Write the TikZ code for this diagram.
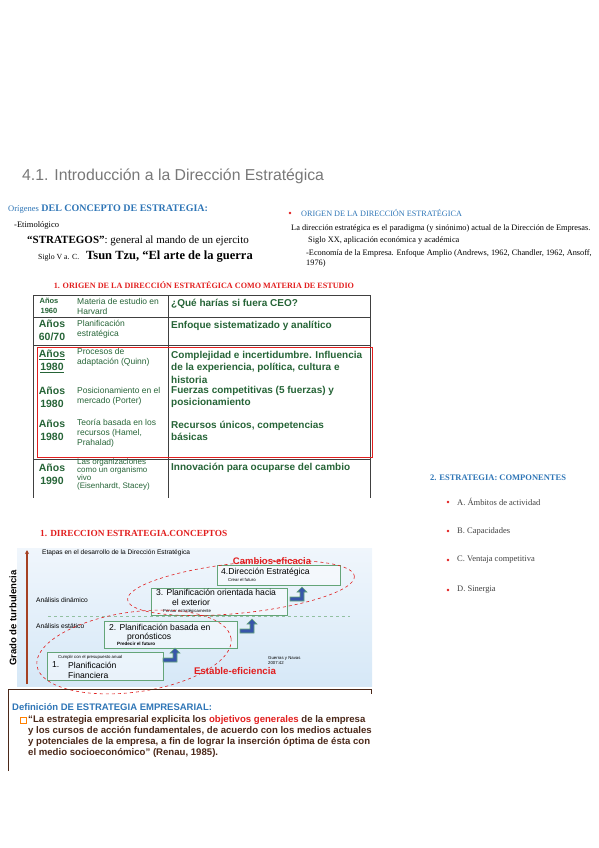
\documentclass[tikz,border=0pt]{standalone}
\usepackage{fontspec}
\setmainfont{Liberation Serif}
\setsansfont{Liberation Sans}
\usetikzlibrary{arrows.meta, positioning, shapes.geometric}

\definecolor{titlegray}{RGB}{120,120,120}
\definecolor{headblue}{RGB}{46,117,182}
\definecolor{tabgreen}{RGB}{38,100,55}
\definecolor{markred}{RGB}{225,30,30}
\definecolor{axbrown}{RGB}{165,65,35}
\definecolor{boxgreen}{RGB}{100,165,120}
\definecolor{stepblue}{RGB}{55,85,170}
\definecolor{defbrown}{RGB}{75,40,25}
\definecolor{panelA}{RGB}{240,246,252}
\definecolor{panelB}{RGB}{214,232,247}

\newcommand{\fsz}[2]{\fontsize{#1}{#2}\selectfont}

\begin{document}
\begin{tikzpicture}[
  x=1pt, y=-1pt,
  txt/.style={inner sep=0pt, anchor=west, align=left},
  bul/.style={circle, fill=markred, inner sep=0pt, minimum size=2.6pt},
  col1/.style={inner sep=0pt, align=center, text=tabgreen, font=\sffamily\bfseries\fsz{10.5}{13}},
  col2/.style={txt, text=tabgreen, font=\sffamily\fsz{8.5}{10}},
  col3/.style={txt, text=tabgreen, font=\sffamily\bfseries\fsz{10}{12.5}},
  tabline/.style={draw=black!75, line width=0.8pt},
  stagebox/.style={draw=boxgreen, line width=0.8pt, fill=white, fill opacity=0.45, anchor=north west, inner sep=0pt},
  stagetxt/.style={txt, font=\sffamily\fsz{8.6}{9}},
  tinytxt/.style={txt, font=\sffamily\fsz{4.3}{5}},
  steparrow/.style={fill=stepblue, draw=boxgreen, line width=0.6pt},
  redellipse/.style={draw=markred, dashed, line width=0.6pt},
  deftxt/.style={txt, text=defbrown, font=\sffamily\bfseries\fsz{9.6}{11}}
]
\useasboundingbox (0,0) rectangle (599,848);

% title
\node[txt, text=titlegray, font=\sffamily\fsz{15.8}{18}] (title) at (22,176) {4.1. Introducción a la Dirección Estratégica};

% origenes del concepto
\node[txt, text=headblue, font=\bfseries\fsz{10}{11}] (orig) at (8,209) {\textmd{\fsz{8.5}{9}Orígenes} DEL CONCEPTO DE ESTRATEGIA:};
\node[txt, font=\fsz{8.5}{9}] (etim) at (14,225) {-Etimológico};
\node[txt, font=\fsz{11}{13}] (strat) at (27,241) {\textbf{“STRATEGOS”}: general al mando de un ejercito};
\node[txt, font=\fsz{7.8}{9}] (siglo) at (38,258) {Siglo V a. C.};
\node[txt, font=\bfseries\fsz{12.5}{14}] (tzu) at (86,257) {Tsun Tzu, “El arte de la guerra};

% origen de la direccion estrategica
\node[bul] (b0) at (290,213) {};
\node[txt, text=headblue, font=\fsz{8.2}{9}] (origr) at (301,213) {ORIGEN DE LA DIRECCIÓN ESTRATÉGICA};
\node[txt, font=\fsz{8.3}{9}] (par1) at (291,229) {La dirección estratégica es el paradigma (y sinónimo) actual de la Dirección de Empresas.};
\node[txt, font=\fsz{8.3}{9}] (par2) at (308,241) {Siglo XX, aplicación económica y académica};
\node[txt, font=\fsz{8.3}{9}] (par3) at (306,253) {-Economía de la Empresa. Enfoque Amplio (Andrews, 1962, Chandler, 1962, Ansoff,};
\node[txt, font=\fsz{8.3}{9}] (par4) at (306,264) {1976)};

% tabla
\node[inner sep=0pt, text=markred, font=\bfseries\fsz{8.15}{9}] (ttab) at (204,285) {1. ORIGEN DE LA DIRECCIÓN ESTRATÉGICA COMO MATERIA DE ESTUDIO};
\draw[tabline] (33,295) -- (370,295);
\foreach \y in {317,345,459} \draw[tabline] (33,\y) -- (370,\y);
\foreach \x in {33,168,370} \draw[tabline] (\x,295) -- (\x,498);

\node[col1, font=\sffamily\bfseries\fsz{7.5}{9.5}] (a1) at (49,306) {Años\\1960};
\node[col2] (m1) at (77,306) {Materia de estudio en\\Harvard};
\node[col3] (e1) at (171,304) {¿Qué harías si fuera CEO?};

\node[col1] (a2) at (52,330) {Años\\60/70};
\node[col2] (m2) at (77,329) {Planificación\\estratégica};
\node[col3] (e2) at (171,326) {Enfoque sistematizado y analítico};

\node[col1] (a3) at (52,361) {\underline{Años}\\\underline{1980}};
\node[col2] (m3) at (77,357) {Procesos de\\adaptación (Quinn)};
\node[col3] (e3) at (171,367) {Complejidad e incertidumbre. Influencia\\de la experiencia, política, cultura e\\historia};

\node[col1] (a4) at (52,397) {Años\\1980};
\node[col2] (m4) at (77,396) {Posicionamiento en el\\mercado (Porter)};
\node[col3] (e4) at (171,397) {Fuerzas competitivas (5 fuerzas) y\\posicionamiento};

\node[col1] (a5) at (52,430) {Años\\1980};
\node[col2] (m5) at (77,433) {Teoría basada en los\\recursos (Hamel,\\Prahalad)};
\node[col3] (e5) at (171,431) {Recursos únicos, competencias\\básicas};

\node[col1] (a6) at (52,474) {Años\\1990};
\node[col2, font=\sffamily\fsz{8}{7.2}] (m6) at (77,474) {Las organizaciones\\como un organismo\\vivo\\(Eisenhardt, Stacey)};
\node[col3] (e6) at (171,468) {Innovación para ocuparse del cambio};

\draw[markred, line width=0.9pt] (37,347) rectangle (372,457);

% componentes
\node[txt, text=headblue, font=\bfseries\fsz{8.5}{9}] (comp) at (430,478) {2. ESTRATEGIA: COMPONENTES};
\foreach \y/\t/\n in {502/A. Ámbitos de actividad/ca, 531/B. Capacidades/cb, 560/C. Ventaja competitiva/cc, 590/D. Sinergia/cd} {
  \node[bul] (\n b) at (448,\y) {};
  \node[txt, text=black!75, font=\fsz{8.5}{9}] (\n) at (457,\y) {\t};
}

% conceptos
\node[txt, text=markred, font=\bfseries\fsz{9.3}{10}] (conc) at (40,533) {1. DIRECCION ESTRATEGIA.CONCEPTOS};

\shade[top color=panelA, bottom color=panelB] (17,548) rectangle (372,686);
\coordinate (axbot) at (27,684);
\coordinate (axtop) at (27,550);
\draw[axbrown, line width=1.6pt, -{Stealth[length=4pt, width=4pt]}] (axbot) -- (axtop);
\node[rotate=90, inner sep=0pt, font=\sffamily\bfseries\fsz{9.5}{11}] (turb) at (13,618) {Grado de turbulencia};
\node[txt, font=\sffamily\fsz{6.6}{7}] (etapas) at (42,553) {Etapas en el desarrollo de la Dirección Estratégica};
\node[txt, font=\sffamily\fsz{6.7}{7}] (adin) at (36,600) {Análisis dinámico};
\node[txt, font=\sffamily\fsz{6.7}{7}] (aest) at (36,626) {Análisis estático};
\draw[boxgreen!70, dashed, line width=0.8pt] (48,616) -- (350,616);

\node[stagebox, minimum width=123pt, minimum height=20pt] (s4) at (217,565) {};
\node[stagebox, minimum width=136pt, minimum height=27pt] (s3) at (151,588) {};
\node[stagebox, minimum width=133pt, minimum height=27pt] (s2) at (104,621) {};
\node[stagebox, minimum width=116pt, minimum height=28pt] (s1) at (47,652) {};

\node[stagetxt] (s4a) at (221,572) {4.Dirección Estratégica};
\node[tinytxt] (s4b) at (228,580) {Crear el futuro};
\node[stagetxt] (s3a) at (156,592) {3. Planificación orientada hacia};
\node[stagetxt] (s3b) at (172,602) {el exterior};
\node[tinytxt] (s3c) at (163,611) {Pensar estratégicamente};
\node[stagetxt] (s2a) at (109,627) {2. Planificación basada en};
\node[stagetxt] (s2b) at (127,637) {pronósticos};
\node[tinytxt, font=\sffamily\bfseries\fsz{4.6}{5}] (s2c) at (117,644) {Predecir el futuro};
\node[tinytxt] (s1a) at (58,657) {Cumplir con el presupuesto anual};
\node[stagetxt] (s1b) at (52,665) {1.};
\node[stagetxt] (s1c) at (68,665) {Planificación};
\node[stagetxt] (s1d) at (68,675) {Financiera};
\node[tinytxt] (src) at (268,661) {Guerras y Navas\\2007:42};

\foreach \ax/\ay in {163/662, 240/633, 290/601}
  \filldraw[steparrow, shift={(\ax,\ay)}] (0,0) -- (14,0) -- (14,-9) -- (17,-9) -- (12,-14) -- (7,-9) -- (10,-9) -- (10,-4) -- (0,-4) -- cycle;

\draw[redellipse, rotate around={6:(241,588)}] (241,588) ellipse [x radius=114, y radius=25];
\draw[redellipse, rotate around={8:(134,652)}] (134,652) ellipse [x radius=98, y radius=40];
\node[inner sep=0pt, text=markred, font=\sffamily\bfseries\fsz{9.5}{10}] (cambios) at (272,561) {Cambios-eficacia};
\node[inner sep=0pt, text=markred, font=\sffamily\bfseries\fsz{9.7}{10}] (estable) at (235,671) {Estable-eficiencia};

% definicion
\draw[defbrown, line width=1pt] (8,771) -- (8,689) -- (371,689) -- (371,694);
\node[txt, text=headblue, font=\sffamily\bfseries\fsz{9.5}{10}] (defh) at (12,707) {Definición DE ESTRATEGIA EMPRESARIAL:};
\node[draw=orange, inner sep=0pt, minimum size=5.5pt] (sq) at (23,720) {};
\node[deftxt] (d1) at (28,720) {“La estrategia empresarial explicita los \textcolor{markred}{objetivos generales} de la empresa};
\node[deftxt] (d2) at (28,731) {y los cursos de acción fundamentales, de acuerdo con los medios actuales};
\node[deftxt] (d3) at (28,742) {y potenciales de la empresa, a fin de lograr la inserción óptima de ésta con};
\node[deftxt] (d4) at (28,753) {el medio socioeconómico” (Renau, 1985).};
\end{tikzpicture}
\end{document}
